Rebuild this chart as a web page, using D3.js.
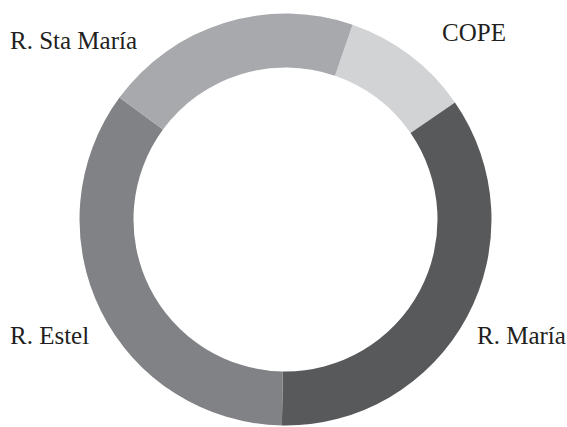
<!DOCTYPE html>
<html>
<head>
<meta charset="utf-8">
<script src="https://cdn.jsdelivr.net/npm/d3@7"></script>
<style>
  html, body { margin: 0; padding: 0; background: #fff; }
  svg { display: block; }
</style>
</head>
<body>
<svg id="chart" width="567" height="427"></svg>
<script>
// Data (percent shares, clockwise from COPE)
const categories = ["COPE", "R. María", "R. Estel", "R. Sta María"];
const values = [10.1, 34.9, 34.8, 20.2];
const colors = ["#d1d3d4", "#58595b", "#808285", "#a7a9ac"];

const width = 567, height = 427;
const cx = 285.5, cy = 219.5;
const outerR = 206, innerR = 152;
const start = 19 * Math.PI / 180;

const svg = d3.select("#chart");
const g = svg.append("g").attr("transform", `translate(${cx},${cy})`);

const pie = d3.pie().sort(null).value(d => d.value)
  .startAngle(start).endAngle(start + 2 * Math.PI);
const arc = d3.arc().innerRadius(innerR).outerRadius(outerR);
const color = d3.scaleOrdinal().domain(categories).range(colors);

const data = categories.map((c, i) => ({ name: c, value: values[i] }));

g.selectAll("path").data(pie(data)).join("path")
  .attr("d", arc)
  .attr("fill", d => color(d.data.name));

// Labels
const labelPos = {
  "COPE": [442, 41],
  "R. María": [477, 344],
  "R. Estel": [10, 344],
  "R. Sta María": [10, 49]
};
svg.selectAll("text.lbl").data(categories).join("text")
  .attr("class", "lbl")
  .attr("x", d => labelPos[d][0])
  .attr("y", d => labelPos[d][1])
  .attr("font-family", "'Liberation Serif', serif")
  .attr("font-size", 25)
  .attr("fill", "#231f20")
  .text(d => d);
</script>
</body>
</html>
